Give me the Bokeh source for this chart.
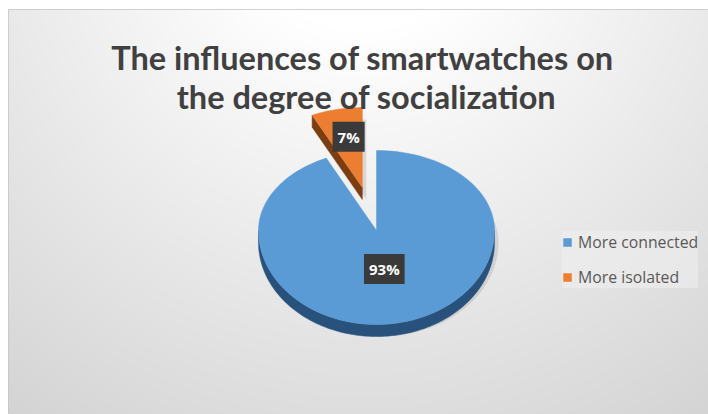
import numpy as np
from bokeh.plotting import figure
from bokeh.models import Range1d, Label, Legend, LegendItem, ColumnDataSource
from bokeh.embed import file_html
from bokeh.resources import INLINE

# ---- data ----
categories = ["More connected", "More isolated"]
shares = [93, 7]
labels = ["93%", "7%"]
explode = [0.0, 0.55]
top_colors = ["#5b9bd5", "#ed7d31"]
side_colors = ["#28527c", "#7b3d12"]
title_lines = ["The influences of smartwatches on", "the degree of socialization"]

W, H = 708, 414
L, T = 8, 9
FW, FH = W - L, H - T

p = figure(width=W, height=H, x_range=Range1d(L, W), y_range=Range1d(0, FH),
           output_backend="svg", toolbar_location=None,
           min_border_left=L, min_border_top=T, min_border_right=0, min_border_bottom=0)
p.axis.visible = False
p.grid.visible = False
p.outline_line_color = "#c4c4c4"
p.background_fill_color = "#e4e4e4"
p.border_fill_color = "white"

# background gradient (decoration)
hh, ww = FH // 2, FW // 2
yy, xx = np.mgrid[0:hh, 0:ww]
sx = xx * 2.0 + L
sy = (hh - 1 - yy) * 2.0 + T  # screen y (row 0 = bottom)
d = np.sqrt((sx - 360) ** 2 + (sy + 90) ** 2)
v = np.clip(256 - 0.088 * np.maximum(0, d - 110), 0, 255).astype(np.uint32)
img = (255 << 24) | (v << 16) | (v << 8) | v
p.image_rgba(image=[img.astype(np.uint32)], x=L, y=0, dw=FW, dh=FH)

# ---- layout helpers: reference pixel -> data ----
def X(xr):
    return float(xr)
def Y(yr):
    return float(H - yr)

cx, cy = X(376), Y(230)
rx, ry_up, ry_dn, depth = 118.0, 80.0, 94.0, 12.0

def pt(theta, ox=0.0, oy=0.0, r=1.0):
    c = np.cos(theta)
    ry = np.where(c > 0, ry_up, ry_dn)
    return cx + ox + r * rx * np.sin(theta), cy + oy + r * ry * c

total = float(sum(shares))
fr = np.array(shares) / total
ends = np.cumsum(fr) * 2 * np.pi
starts = ends - fr * 2 * np.pi
mids = (starts + ends) / 2

offsets = []
for i in range(len(shares)):
    ex, ey = pt(mids[i], r=explode[i])
    offsets.append((float(ex - cx), float(ey - cy)))

tops_x, tops_y = [], []
side_xs, side_ys, side_cols = [], [], []
shadow_xs, shadow_ys = [], []
for i in range(len(shares)):
    ox, oy = offsets[i]
    th = np.linspace(starts[i], ends[i], 160)
    px, py = pt(th, ox, oy)
    ax, ay = cx + ox, cy + oy
    tx = [ax] + list(px)
    ty = [ay] + list(py)
    tops_x.append(tx)
    tops_y.append(ty)
    shadow_xs.append([x_ + 4 for x_ in tx])
    shadow_ys.append([y_ - 12 for y_ in ty])
    # front rim side (cos < 0)
    lo = max(starts[i], np.pi / 2)
    hi = min(ends[i], 3 * np.pi / 2)
    if hi > lo:
        t2 = np.linspace(lo, hi, 160)
        rxp, ryp = pt(t2, ox, oy)
        side_xs.append(list(rxp) + list(rxp[::-1]))
        side_ys.append(list(ryp) + list(ryp[::-1] - depth))
        side_cols.append(side_colors[i])
    # radial start-edge side (visible when facing viewer)
    if np.sin(starts[i]) < 0 and explode[i] > 0:
        ex_, ey_ = pt(starts[i], ox, oy)
        side_xs.append([ax, float(ex_), float(ex_), ax])
        side_ys.append([ay, float(ey_), float(ey_) - depth, ay - depth])
        side_cols.append(side_colors[i])

p.patches(xs=shadow_xs, ys=shadow_ys, fill_color="#9a9a9a", fill_alpha=0.3, line_color=None)
p.patches(xs=side_xs, ys=side_ys, fill_color=side_cols, line_color=side_cols, line_width=0.5)
src = ColumnDataSource(dict(xs=tops_x, ys=tops_y, color=top_colors, name=categories))
tops = p.patches(xs="xs", ys="ys", fill_color="color", line_color="color", line_width=0.5, source=src)

# data labels
label_r = [0.42, 0.65]
for i in range(len(shares)):
    ox, oy = offsets[i]
    lx, ly = pt(mids[i], ox, oy, r=label_r[i])
    p.add_layout(Label(x=float(lx) - (3 if i == 0 else -3), y=float(ly), text=labels[i],
                       text_align="center", text_baseline="middle", text_color="white",
                       text_font="Open Sans", text_font_style="bold", text_font_size="15px",
                       background_fill_color="#3a3a3a", padding=5))

# title
title_pos = [(X(362), Y(57)), (X(366), Y(96))]
for (tx_, ty_), line in zip(title_pos, title_lines):
    p.add_layout(Label(x=tx_, y=ty_, text=line, text_align="center", text_baseline="alphabetic",
                       text_color="#404040", text_font="Lato", text_font_style="bold",
                       text_font_size="32.5px"))

legend = Legend(items=[LegendItem(label=categories[i], renderers=[tops], index=i)
                       for i in range(len(categories))],
                location=(557 - L + 5, (H - 234) - 69 + 15), orientation="vertical",
                background_fill_color="#eeeeee", background_fill_alpha=0.6,
                border_line_color=None, label_text_font="Open Sans",
                label_text_font_size="15.8px", label_text_color="#595959",
                glyph_width=10, glyph_height=10, label_height=20, spacing=13,
                padding=8, label_standoff=6, margin=0)
p.add_layout(legend, "center")

open("out.html", "w").write(file_html(p, INLINE))
